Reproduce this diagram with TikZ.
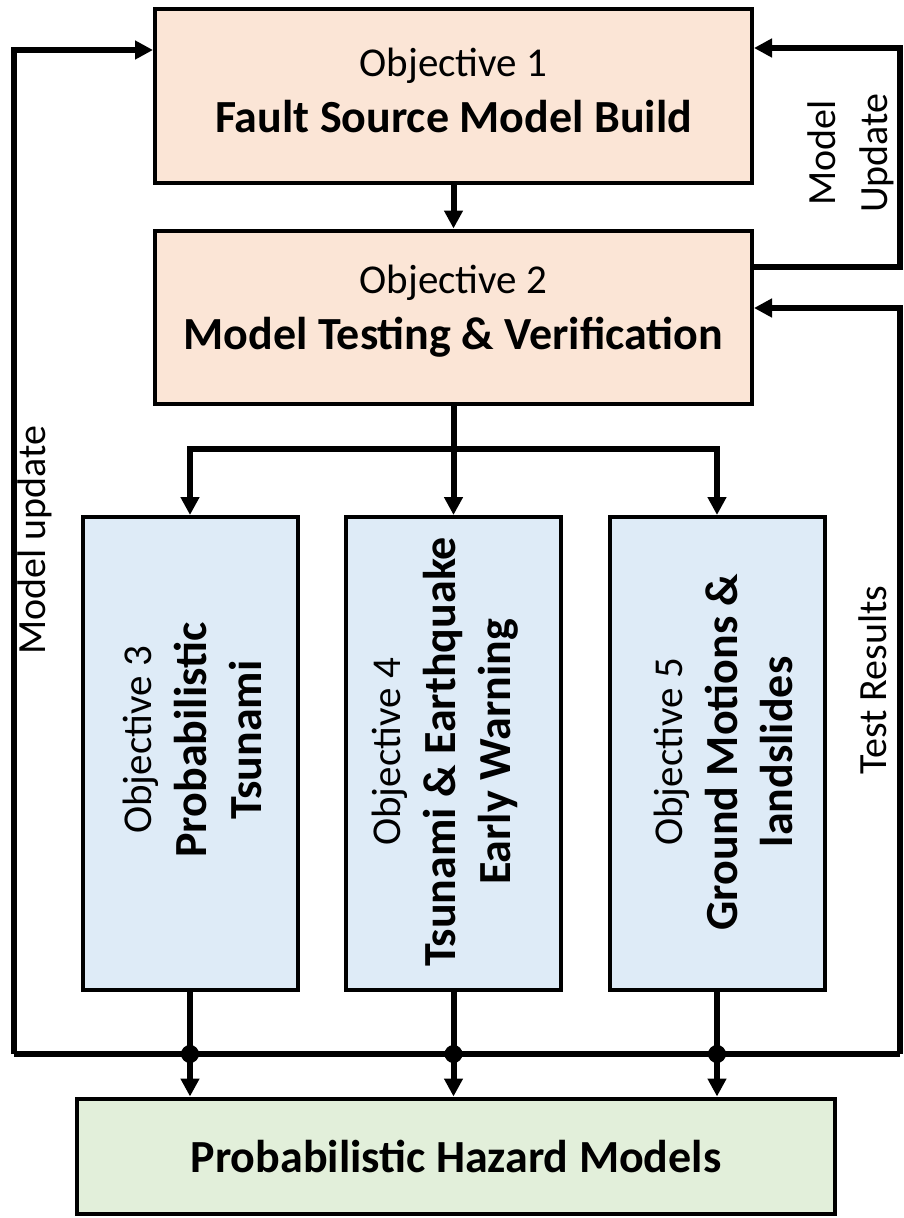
\documentclass[tikz,border=0pt]{standalone}
\usepackage{fontspec}
\setmainfont{Carlito}
\usetikzlibrary{arrows.meta,calc}
\newcommand\objf{\fontsize{41}{56}\selectfont}
\newcommand\titf{\fontsize{46}{56}\selectfont\bfseries}
\newcommand\labf{\fontsize{40}{52}\selectfont}
\definecolor{peach}{HTML}{FBE5D6}
\definecolor{lblue}{HTML}{DEEBF7}
\definecolor{lgreen}{HTML}{E2EFDA}
\begin{document}
\begin{tikzpicture}[x=1pt,y=-1pt,
  box/.style={draw=black, line width=4pt, inner sep=0pt, align=center, font=\fontsize{46}{56}\selectfont},
  htext/.style={align=center, inner sep=0pt, font=\fontsize{46}{56}\selectfont},
  vtext/.style={rotate=90, align=center, inner sep=0pt, font=\fontsize{46}{55}\selectfont},
  lab/.style={rotate=90, align=center, inner sep=0pt, font=\labf},
  arr/.style={line width=6pt, -{Triangle[length=18pt,width=18pt]}},
  ln/.style={line width=6pt},
  bus/.style={line width=6.5pt},
  dot/.style={circle, fill=black, inner sep=0pt, minimum size=18pt}]
\useasboundingbox (0,0) rectangle (903,1218);

% boxes
\node[box, fill=peach, minimum width=597pt, minimum height=174pt] (b1) at (453.5,96) {};
\node[box, fill=peach, minimum width=597pt, minimum height=173pt] (b2) at (453.5,317) {};
\node[box, fill=lblue, minimum width=215pt, minimum height=473pt] (b3) at (190,753.5) {};
\node[box, fill=lblue, minimum width=215pt, minimum height=473pt] (b4) at (453.5,753.5) {};
\node[box, fill=lblue, minimum width=215pt, minimum height=473pt] (b5) at (717,753.5) {};
\node[box, fill=lgreen, minimum width=758pt, minimum height=115pt] (b6) at (456,1156)
  {\titf Probabilistic Hazard Models};

% texts in boxes
\node[htext] (t1) at ($(b1.center)+(0,-6)$) {{\objf Objective 1}\\{\titf Fault Source Model Build}};
\node[htext] (t2) at ($(b2.center)+(0,-6)$) {{\objf Objective 2}\\{\titf Model Testing \& Verification}};
\node[vtext] (t3) at (192,740) {{\objf Objective 3}\\{\titf Probabilistic}\\{\titf Tsunami}};
\node[vtext] (t4) at (445,752) {{\objf Objective 4}\\{\titf Tsunami \& Earthquake}\\{\titf Early Warning}};
\node[vtext] (t5) at (723,752) {{\objf Objective 5}\\{\titf Ground Motions \&}\\{\titf landslides}};

% side labels
\node[lab] (lmu) at (35,540) {Model update};
\node[lab] (lru) at (851,153) {Model\\Update};
\node[lab] (ltr) at (873,680) {Test Results};

% coordinates
\coordinate (split) at (453.5,449);
\coordinate (busL) at (13.5,1054);
\coordinate (busR) at (900,1054);
\coordinate (fl) at (13.5,50);
\coordinate (mu1) at (900,267);
\coordinate (mu2) at (900,48);
\coordinate (tr) at (900,308);

% top connectors
\draw[arr] (b1.south) -- (b2.north);
\draw[ln] (b2.south) -- (split);
\draw[arr] (split) -| (b3.north);
\draw[arr] (split) -- (b4.north);
\draw[arr] (split) -| (b5.north);

% feedback loops
\draw[arr] (busL) -- (fl) -- (fl -| b1.west);
\draw[arr] (mu1 -| b2.east) -- (mu1) -- (mu2) -- (mu2 -| b1.east);
\draw[arr] (busR) -- (tr) -- (tr -| b2.east);

% bus
\draw[bus] (busL) -- (busR);

% bottom connectors
\draw[arr] (b3.south) -- (b3.south |- b6.north);
\draw[arr] (b4.south) -- (b4.south |- b6.north);
\draw[arr] (b5.south) -- (b5.south |- b6.north);
\node[dot] (d3) at (b3.south |- busL) {};
\node[dot] (d4) at (b4.south |- busL) {};
\node[dot] (d5) at (b5.south |- busL) {};
\end{tikzpicture}
\end{document}
